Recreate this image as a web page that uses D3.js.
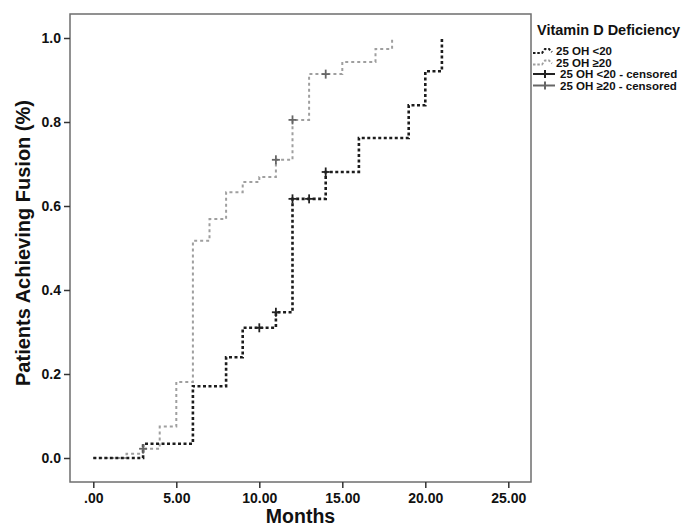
<!DOCTYPE html>
<html>
<head>
<meta charset="utf-8">
<script src="https://cdn.jsdelivr.net/npm/d3@7"></script>
<style>
  body { margin: 0; background: white; }
  svg text { font-family: "Liberation Sans", Arial, sans-serif; font-weight: bold; }
</style>
</head>
<body>
<div id="chart"></div>
<script>
// Kaplan-Meier style step data
var lowMonths = [0, 3, 6, 8, 9, 11, 12, 14, 16, 19, 20, 21];
var lowValues = [0, 0.034, 0.171, 0.240, 0.310, 0.347, 0.617, 0.681, 0.762, 0.840, 0.921, 1.0];
var lowCensorMonths = [10, 11, 12, 13, 14];
var lowCensorValues = [0.310, 0.347, 0.617, 0.617, 0.681];

var highMonths = [0, 2, 3, 4, 5, 6, 7, 8, 9, 10, 11, 12, 13, 15, 17, 18];
var highValues = [0, 0.010, 0.022, 0.075, 0.181, 0.517, 0.569, 0.633, 0.657, 0.669, 0.710, 0.805, 0.914, 0.943, 0.974, 1.0];
var highCensorMonths = [3, 11, 12, 14];
var highCensorValues = [0.022, 0.710, 0.805, 0.914];

var xTicks = [0, 5, 10, 15, 20, 25];
var yTicks = [0, 0.2, 0.4, 0.6, 0.8, 1.0];
var legendLabels = ["25 OH <20", "25 OH \u226520", "25 OH <20 - censored", "25 OH \u226520 - censored"];

var width = 688, height = 528;
var frame = { left: 70, right: 531, top: 14, bottom: 482 };

var darkColor = "#1c1c1c";
var lightColor = "#9f9f9f";

var svg = d3.select("#chart").append("svg")
    .attr("width", width)
    .attr("height", height);

var x = d3.scaleLinear().domain([0, 25]).range([93.3, 508.3]);
var y = d3.scaleLinear().domain([0, 1]).range([458, 38]);

// plot frame
svg.append("rect")
    .attr("x", frame.left)
    .attr("y", frame.top)
    .attr("width", frame.right - frame.left)
    .attr("height", frame.bottom - frame.top)
    .attr("fill", "none")
    .style("stroke", "#6e6e6e")
    .style("stroke-width", 1.5);

// axes
var xAxis = svg.append("g")
    .attr("transform", "translate(0," + frame.bottom + ")")
    .call(d3.axisBottom(x).tickValues(xTicks).tickSize(6).tickPadding(5)
        .tickFormat(function(d) { return d === 0 ? ".00" : d3.format(".2f")(d); }));

var yAxis = svg.append("g")
    .attr("transform", "translate(" + frame.left + ",0)")
    .call(d3.axisLeft(y).tickValues(yTicks).tickSize(6).tickPadding(3)
        .tickFormat(d3.format(".1f")));

[xAxis, yAxis].forEach(function(a) {
  a.select(".domain").remove();
  a.selectAll(".tick line").style("stroke", "#333").style("stroke-width", 1.5);
  a.selectAll(".tick text")
      .style("font-size", "14px")
      .style("font-family", "Liberation Sans, Arial, sans-serif")
      .style("font-weight", "bold")
      .attr("fill", "#111");
});

// axis titles
svg.append("text")
    .attr("x", (frame.left + frame.right) / 2)
    .attr("y", 523)
    .text("Months")
    .style("text-anchor", "middle")
    .style("font-size", "19.5px")
    .attr("fill", "#111");

svg.append("text")
    .attr("transform", "translate(30,243) rotate(-90)")
    .text("Patients Achieving Fusion (%)")
    .style("text-anchor", "middle")
    .style("font-size", "20px")
    .attr("fill", "#111");

// step curves
var line = d3.line()
    .x(function(d) { return x(d[0]); })
    .y(function(d) { return y(d[1]); })
    .curve(d3.curveStepAfter);

svg.append("path")
    .datum(d3.zip(highMonths, highValues))
    .attr("d", line)
    .attr("fill", "none")
    .style("stroke", lightColor)
    .style("stroke-width", 2)
    .style("stroke-dasharray", "3,3");

svg.append("path")
    .datum(d3.zip(lowMonths, lowValues))
    .attr("d", line)
    .attr("fill", "none")
    .style("stroke", darkColor)
    .style("stroke-width", 2.6)
    .style("stroke-dasharray", "3,2.5");

// censor marks
function drawCensors(months, values, color) {
  var marks = svg.append("g").selectAll("g")
      .data(d3.zip(months, values))
      .enter()
      .append("g")
      .attr("transform", function(d) { return "translate(" + x(d[0]) + "," + y(d[1]) + ")"; });
  marks.append("line").attr("x1", -4).attr("x2", 4).attr("y1", 0).attr("y2", 0)
      .style("stroke", color).style("stroke-width", 1.8);
  marks.append("line").attr("x1", 0).attr("x2", 0).attr("y1", -4.5).attr("y2", 4.5)
      .style("stroke", color).style("stroke-width", 1.8);
}
drawCensors(highCensorMonths, highCensorValues, "#666");
drawCensors(lowCensorMonths, lowCensorValues, "#222");

// legend
var legend = svg.append("g").attr("transform", "translate(537,0)");
legend.append("text")
    .attr("x", 0)
    .attr("y", 35)
    .text("Vitamin D Deficiency")
    .style("font-size", "14.5px")
    .attr("fill", "#111");

var rowY = [51, 62.5, 74, 85.5];
var stepIcon = [[-4, 2], [5, 2], [8, -2], [12, -2], [15, 1]];
legendLabels.forEach(function(label, i) {
  var g = legend.append("g").attr("transform", "translate(0," + rowY[i] + ")");
  if (i < 2) {
    g.append("path")
        .attr("d", d3.line()(stepIcon))
        .attr("fill", "none")
        .style("stroke", i === 0 ? darkColor : lightColor)
        .style("stroke-width", i === 0 ? 2.2 : 1.8)
        .style("stroke-dasharray", "2.5,1.8");
  } else {
    var c = i === 2 ? "#222" : "#666";
    g.append("line").attr("x1", -4).attr("x2", 18).attr("y1", 0).attr("y2", 0)
        .style("stroke", c).style("stroke-width", 2);
    g.append("line").attr("x1", 8).attr("x2", 8).attr("y1", -4).attr("y2", 4)
        .style("stroke", c).style("stroke-width", 2);
  }
  g.append("text")
      .attr("x", i < 2 ? 19 : 23)
      .attr("y", 4)
      .text(label)
      .style("font-size", "11.5px")
      .attr("fill", "#111");
});
</script>
</body>
</html>
